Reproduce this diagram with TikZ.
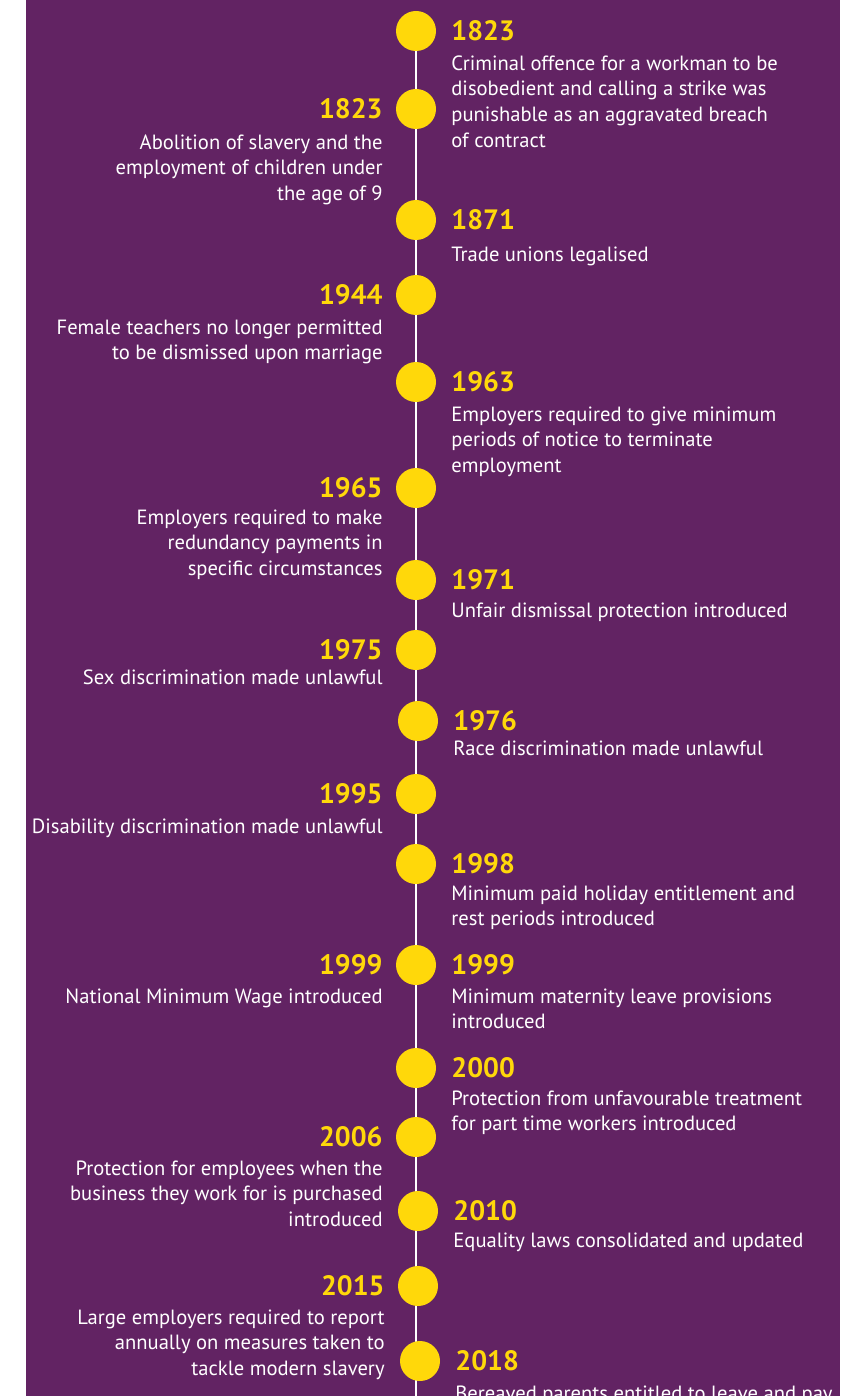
\documentclass[tikz,border=0pt]{standalone}
\usepackage{fontspec}
\setmainfont{PT Sans}
\usetikzlibrary{positioning, backgrounds}

\definecolor{plum}{HTML}{622363}
\definecolor{gold}{HTML}{FFD80A}

\begin{document}
\begin{tikzpicture}[x = 1pt, y = -1pt,
	dot/.style = {circle, fill = gold, minimum size = 40pt, inner sep = 0pt},
	year/.style = {inner sep = 0pt, text = gold, font = \fontsize{28}{30}\selectfont\bfseries},
	note/.style = {inner sep = 0pt, text = white, font = \fontsize{20.6}{25.7}\selectfont}]

	\useasboundingbox (0, 0) rectangle (840, 1396);
	\clip (0, 0) rectangle (840, 1396);

	% Dots along the time line

	\node [dot] (d1)  at (416, 31)   {};
	\node [dot] (d2)  at (416, 109)  {};
	\node [dot] (d3)  at (416, 220)  {};
	\node [dot] (d4)  at (416, 295)  {};
	\node [dot] (d5)  at (416, 382)  {};
	\node [dot] (d6)  at (416, 488)  {};
	\node [dot] (d7)  at (416, 580)  {};
	\node [dot] (d8)  at (416, 650)  {};
	\node [dot] (d9)  at (418, 721)  {};
	\node [dot] (d10) at (416, 794)  {};
	\node [dot] (d11) at (416, 864)  {};
	\node [dot] (d12) at (416, 965)  {};
	\node [dot] (d13) at (416, 1068) {};
	\node [dot] (d14) at (416, 1137) {};
	\node [dot] (d15) at (418, 1211) {};
	\node [dot] (d16) at (418, 1286) {};
	\node [dot] (d17) at (420, 1361) {};

	% Background and the line behind the dots

	\coordinate (end) at (416, 1396);

	\begin{pgfonlayer}{background}
		\fill [white] (0, 0) rectangle (840, 1396);
		\fill [plum] (26, 0) rectangle (840, 1396);
		\draw [white, line width = 2pt] (d1.center) -- (end);
	\end{pgfonlayer}

	% Events on the right

	\node [year, right = 15pt of d1] (y1) {1823};
	\node [note, align = left, below = 14pt of y1.south west, anchor = north west] (n1)
		{Criminal offence for a workman to be\\disobedient and calling a strike was\\punishable as an aggravated breach\\of contract};

	\node [year, right = 15pt of d3] (y3) {1871};
	\node [note, align = left, below = 16pt of y3.south west, anchor = north west] (n3)
		{Trade unions legalised};

	\node [year, right = 15pt of d5] (y5) {1963};
	\node [note, align = left, below = 14pt of y5.south west, anchor = north west] (n5)
		{Employers required to give minimum\\periods of notice to terminate\\employment};

	\node [year, right = 15pt of d7] (y7) {1971};
	\node [note, align = left, below = 12pt of y7.south west, anchor = north west] (n7)
		{Unfair dismissal protection introduced};

	\node [year, right = 15pt of d9] (y9) {1976};
	\node [note, align = left, below = 9pt of y9.south west, anchor = north west] (n9)
		{Race discrimination made unlawful};

	\node [year, right = 15pt of d11] (y11) {1998};
	\node [note, align = left, below = 11pt of y11.south west, anchor = north west] (n11)
		{Minimum paid holiday entitlement and\\rest periods introduced};

	\node [year, right = 15pt of d12] (y12r) {1999};
	\node [note, align = left, below = 13pt of y12r.south west, anchor = north west] (n12r)
		{Minimum maternity leave provisions\\introduced};

	\node [year, right = 15pt of d13] (y13) {2000};
	\node [note, align = left, below = 12pt of y13.south west, anchor = north west] (n13)
		{Protection from unfavourable treatment\\for part time workers introduced};

	\node [year, right = 15pt of d15] (y15) {2010};
	\node [note, align = left, below = 11pt of y15.south west, anchor = north west] (n15)
		{Equality laws consolidated and updated};

	\node [year, right = 15pt of d17] (y17) {2018};
	\node [note, align = left, below = 14pt of y17.south west, anchor = north west] (n17)
		{Bereaved parents entitled to leave and pay};

	% Events on the left

	\node [year, left = 13pt of d2] (y2) {1823};
	\node [note, align = right, below = 15pt of y2.south east, anchor = north east] (n2)
		{Abolition of slavery and the\\employment of children under\\the age of 9};

	\node [year, left = 13pt of d4] (y4) {1944};
	\node [note, align = right, below = 14pt of y4.south east, anchor = north east] (n4)
		{Female teachers no longer permitted\\to be dismissed upon marriage};

	\node [year, left = 13pt of d6] (y6) {1965};
	\node [note, align = right, below = 11pt of y6.south east, anchor = north east] (n6)
		{Employers required to make\\redundancy payments in\\specific circumstances};

	\node [year, left = 13pt of d8] (y8) {1975};
	\node [note, align = right, below = 9pt of y8.south east, anchor = north east] (n8)
		{Sex discrimination made unlawful};

	\node [year, left = 13pt of d10] (y10) {1995};
	\node [note, align = right, below = 14pt of y10.south east, anchor = north east] (n10)
		{Disability discrimination made unlawful};

	\node [year, left = 13pt of d12] (y12l) {1999};
	\node [note, align = right, below = 13pt of y12l.south east, anchor = north east] (n12l)
		{National Minimum Wage introduced};

	\node [year, left = 13pt of d14] (y14) {2006};
	\node [note, align = right, below = 13pt of y14.south east, anchor = north east] (n14)
		{Protection for employees when the\\business they work for is purchased\\introduced};

	\node [year, left = 13pt of d16] (y16) {2015};
	\node [note, align = right, below = 13pt of y16.south east, anchor = north east] (n16)
		{Large employers required to report\\annually on measures taken to\\tackle modern slavery};

\end{tikzpicture}
\end{document}
